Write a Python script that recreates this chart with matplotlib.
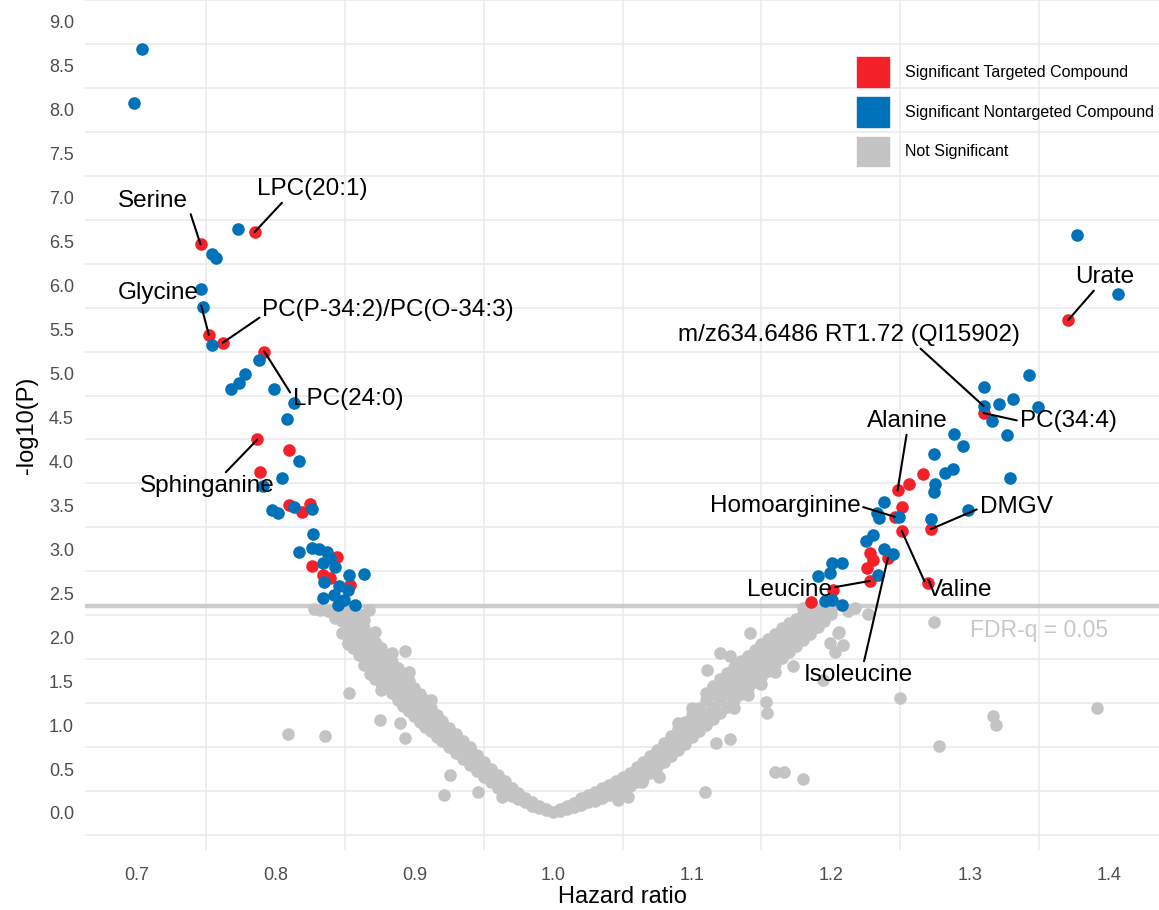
import matplotlib
matplotlib.use("Agg")
import matplotlib.pyplot as plt
from matplotlib.patches import Patch

plt.rcParams['font.family'] = ['Liberation Sans', 'DejaVu Sans']

RED = '#F52129'
BLUE = '#0072BA'
GRAY = '#C4C4C4'

# significant targeted compounds (hazard ratio, -log10 P)
tgt_hr = [0.785, 0.746, 0.752, 0.762, 0.792, 0.787, 0.810, 0.789, 0.810, 0.819,
          0.825, 0.844, 0.826, 0.834, 0.839, 0.854,
          1.371, 1.310, 1.266, 1.256, 1.248, 1.251, 1.246, 1.251, 1.272, 1.270,
          1.228, 1.230, 1.226, 1.228, 1.241, 1.2017, 1.186]
tgt_logp = [6.61, 6.47, 5.44, 5.35, 5.25, 4.25, 4.13, 3.88, 3.50, 3.42,
            3.52, 2.91, 2.81, 2.71, 2.67, 2.59,
            5.61, 4.55, 3.86, 3.74, 3.67, 3.48, 3.37, 3.21, 3.23, 2.62,
            2.96, 2.88, 2.79, 2.64, 2.90, 2.54, 2.40]

# significant nontargeted compounds
nt_hr = [0.704, 0.698, 0.773, 0.754, 0.757, 0.746, 0.748, 0.754, 0.788, 0.778,
         0.774, 0.768, 0.799, 0.813, 0.808, 0.817, 0.805, 0.791, 0.7975, 0.802,
         0.813, 0.826, 0.827, 0.817, 0.826, 0.831, 0.837, 0.839, 0.834, 0.843,
         0.835, 0.853, 0.864, 0.846, 0.852, 0.842, 0.834, 0.849, 0.857, 0.845,
         1.377, 1.407, 1.343, 1.310, 1.331, 1.321, 1.349, 1.310, 1.316, 1.327,
         1.289, 1.295, 1.274, 1.288, 1.282, 1.275, 1.274, 1.329, 1.238, 1.249,
         1.233, 1.235, 1.272, 1.299, 1.230, 1.225, 1.238, 1.245, 1.234, 1.201,
         1.208, 1.191, 1.199, 1.196, 1.208, 1.201]
nt_logp = [8.69, 8.08, 6.64, 6.36, 6.31, 5.96, 5.76, 5.32, 5.15, 5.00,
           4.89, 4.82, 4.82, 4.66, 4.48, 4.00, 3.81, 3.72, 3.45, 3.41,
           3.48, 3.46, 3.17, 2.97, 3.01, 3.00, 2.97, 2.90, 2.84, 2.80,
           2.63, 2.71, 2.72, 2.58, 2.54, 2.48, 2.45, 2.42, 2.37, 2.37,
           6.58, 5.91, 4.98, 4.85, 4.71, 4.65, 4.62, 4.63, 4.46, 4.30,
           4.31, 4.18, 4.08, 3.91, 3.87, 3.74, 3.65, 3.81, 3.54, 3.37,
           3.41, 3.36, 3.34, 3.45, 3.16, 3.09, 3.00, 2.95, 2.71, 2.84,
           2.84, 2.70, 2.73, 2.41, 2.37, 2.42]

# not significant: dense band, read column by column
ns_band_hr = [0.843, 0.848, 0.852, 0.856, 0.860, 0.864, 0.868, 0.872, 0.876, 0.880,
              0.884, 0.888, 0.892, 0.896, 0.900, 0.904, 0.908, 0.912, 0.916, 0.920,
              0.925, 0.930, 0.935, 0.940, 0.945, 0.950, 0.955, 0.960, 0.965, 0.970,
              0.975, 0.980, 0.985, 0.990, 0.995, 1.000,
              1.005, 1.010, 1.015, 1.020, 1.025, 1.030, 1.035, 1.040, 1.045, 1.050,
              1.055, 1.060, 1.065, 1.070, 1.075, 1.080, 1.085, 1.090, 1.095, 1.100,
              1.105, 1.110, 1.115, 1.120, 1.125, 1.130, 1.135, 1.140, 1.145, 1.150,
              1.155, 1.160, 1.165, 1.170, 1.175, 1.180, 1.185, 1.190, 1.195, 1.200]
ns_band_logp = [
    [2.30, 2.22], [2.32, 2.18, 2.05], [2.25, 2.10, 1.95, 2.32], [2.28, 2.15, 2.00, 1.88],
    [2.18, 2.05, 1.90, 1.80, 2.26], [2.10, 1.95, 1.82, 1.68, 2.20], [2.02, 1.88, 1.72, 1.58],
    [1.95, 1.80, 1.66, 1.52, 2.06], [1.88, 1.72, 1.60, 1.48, 1.40], [1.80, 1.66, 1.55, 1.42],
    [1.72, 1.60, 1.48, 1.36, 1.82], [1.65, 1.52, 1.40, 1.28], [1.58, 1.45, 1.34, 1.22],
    [1.50, 1.38, 1.27, 1.16, 1.60], [1.42, 1.31, 1.20, 1.10], [1.35, 1.24, 1.14, 1.04],
    [1.28, 1.17, 1.07, 0.98], [1.20, 1.10, 1.01, 0.93, 1.28], [1.12, 1.03, 0.95, 0.87],
    [1.05, 0.97, 0.89, 0.82], [0.97, 0.90, 0.82, 0.75], [0.90, 0.82, 0.75, 0.68],
    [0.82, 0.75, 0.68, 0.62], [0.74, 0.67, 0.60, 0.55], [0.66, 0.59, 0.53, 0.48],
    [0.58, 0.51, 0.46, 0.41], [0.50, 0.44, 0.39, 0.35], [0.43, 0.37, 0.33, 0.29],
    [0.36, 0.31, 0.27, 0.24], [0.29, 0.25, 0.22, 0.19], [0.23, 0.19, 0.16],
    [0.17, 0.14, 0.12], [0.12, 0.10, 0.08], [0.08, 0.06], [0.04, 0.03], [0.01],
    [0.02, 0.05], [0.04, 0.08], [0.07, 0.11], [0.09, 0.13, 0.17], [0.12, 0.16, 0.20],
    [0.14, 0.19, 0.24], [0.17, 0.22, 0.28], [0.20, 0.26, 0.32], [0.24, 0.30, 0.36],
    [0.27, 0.34, 0.41], [0.31, 0.38, 0.46], [0.35, 0.43, 0.52], [0.40, 0.49, 0.58],
    [0.46, 0.55, 0.65], [0.52, 0.62, 0.72], [0.58, 0.69, 0.80], [0.65, 0.76, 0.88],
    [0.72, 0.84, 0.96, 1.02], [0.79, 0.92, 1.04], [0.86, 0.99, 1.12, 1.20], [0.93, 1.06, 1.20],
    [1.00, 1.14, 1.28, 1.36], [1.07, 1.21, 1.35, 1.44], [1.14, 1.28, 1.42, 1.52],
    [1.21, 1.35, 1.49, 1.59], [1.28, 1.42, 1.56, 1.66, 1.20], [1.35, 1.49, 1.62, 1.73],
    [1.42, 1.56, 1.69, 1.79, 1.34], [1.49, 1.62, 1.75, 1.86], [1.55, 1.68, 1.81, 1.92, 1.47],
    [1.62, 1.75, 1.87, 1.98], [1.69, 1.81, 1.93, 2.04, 1.60], [1.76, 1.88, 1.99, 2.10],
    [1.83, 1.94, 2.05, 2.16], [1.90, 2.01, 2.11, 2.21], [1.97, 2.07, 2.17, 2.26],
    [2.04, 2.14, 2.23, 2.30], [2.12, 2.21, 2.29], [2.19, 2.27, 2.33], [2.26, 2.32]]

# not significant: scattered points off the band
ns_out_hr = [0.832, 0.836, 0.809, 0.893, 0.853, 0.875, 0.890, 0.893, 0.852, 0.848,
             0.867, 0.921, 0.946, 0.926, 0.963, 0.940, 0.828, 0.838,
             1.142, 1.111, 1.120, 1.127, 1.153, 1.154, 1.173, 1.191, 1.205, 1.199,
             1.203, 1.209, 1.117, 1.127, 1.160, 1.166, 1.180, 1.109, 1.076, 1.064,
             1.054, 1.194, 1.274, 1.250, 1.317, 1.319, 1.278, 1.392, 1.217, 1.227,
             1.206, 1.047, 1.212, 1.180]
ns_out_logp = [2.31, 0.88, 0.90, 1.84, 1.37, 1.06, 1.02, 0.85, 1.92, 2.25,
               2.31, 0.20, 0.24, 0.43, 0.18, 0.75, 2.32, 2.30,
               2.05, 1.63, 1.82, 1.79, 1.26, 1.14, 1.67, 2.12, 2.05, 1.93,
               1.83, 1.91, 0.80, 0.84, 0.47, 0.47, 0.39, 0.24, 0.41, 0.35,
               0.18, 1.51, 2.17, 1.31, 1.10, 1.00, 0.76, 1.19, 2.33, 2.26,
               2.06, 0.15, 2.30, 2.33]

# labelled compounds: name, point, label centre, where the segment leaves the label
lab_names = ['Serine', 'LPC(20:1)', 'Glycine', 'PC(P-34:2)/PC(O-34:3)', 'LPC(24:0)',
             'Sphinganine', 'm/z634.6486 RT1.72 (QI15902)', 'PC(34:4)', 'Urate',
             'Alanine', 'Homoarginine', 'DMGV', 'Valine', 'Leucine', 'Isoleucine']
lab_hr = [0.746, 0.785, 0.752, 0.762, 0.792, 0.787, 1.310, 1.310, 1.371,
          1.248, 1.246, 1.272, 1.251, 1.228, 1.241]
lab_logp = [6.47, 6.61, 5.44, 5.35, 5.25, 4.25, 4.63, 4.55, 5.61,
            3.67, 3.37, 3.23, 3.21, 2.64, 2.90]
lab_x = [0.7117, 0.8264, 0.7153, 0.8811, 0.8523, 0.7506, 1.2131, 1.3708, 1.3975,
         1.2548, 1.1670, 1.3333, 1.2930, 1.1705, 1.2195]
lab_y = [6.96, 7.10, 5.92, 5.72, 4.71, 3.72, 5.44, 4.46, 6.10,
         4.46, 3.49, 3.48, 2.54, 2.54, 1.57]
lab_rel = [(1, 0.3), (0.25, 0), (1, 0.4), (0, 0.25), (0, 0.6), (0.62, 1), (0.7, 0),
           (0, 0.5), (0.35, 0), (0.5, 0), (1, 0.5), (0, 0.45), (0, 0.6), (1, 0.6),
           (0.55, 1)]

fdr_threshold = 2.355

ns_hr = list(ns_out_hr)
ns_logp = list(ns_out_logp)
for h, ys in zip(ns_band_hr, ns_band_logp):
    for y in ys:
        ns_hr.append(h)
        ns_logp.append(y)

fig = plt.figure(figsize=(11.59, 9.10), dpi=100)
ax = fig.add_axes([85 / 1159, 60 / 910, 1074 / 1159, 850 / 910])

ax.axhline(fdr_threshold, color='#CCCCCC', lw=3.2, zorder=1)
ax.scatter(ns_hr, ns_logp, s=82, color=GRAY, linewidths=0, zorder=2)
ax.scatter(tgt_hr, tgt_logp, s=82, color=RED, linewidths=0, zorder=3)
ax.scatter(nt_hr, nt_logp, s=82, color=BLUE, linewidths=0, zorder=4)

ax.text(1.350, 2.08, 'FDR-q = 0.05', color='#C8C8C8', fontsize=16.5,
        ha='center', va='center', zorder=5)

for name, px, py, tx, ty, rel in zip(lab_names, lab_hr, lab_logp, lab_x, lab_y, lab_rel):
    ax.annotate(name, xy=(px, py), xytext=(tx, ty), fontsize=17.5, color='black',
                ha='center', va='center', zorder=6,
                arrowprops=dict(arrowstyle='-', color='black', lw=1.5,
                                relpos=rel, shrinkA=0, shrinkB=0))

ax.set_xlim(0.6628, 1.4363)
ax.set_ylim(-0.421, 9.249)

ax.set_xticks([0.7, 0.8, 0.9, 1.0, 1.1, 1.2, 1.3, 1.4])
ax.set_xticklabels(['0.7', '0.8', '0.9', '1.0', '1.1', '1.2', '1.3', '1.4'])
yt = [i * 0.5 for i in range(19)]
ax.set_yticks(yt)
ax.set_yticklabels(['%.1f' % v for v in yt])
ax.set_xticks([0.75, 0.85, 0.95, 1.05, 1.15, 1.25, 1.35], minor=True)
ax.set_yticks([-0.25 + i * 0.5 for i in range(20)], minor=True)
ax.grid(False, which='major')
ax.grid(True, which='minor', color='#EBEBEB', lw=1.2)
ax.set_axisbelow(True)
ax.tick_params(which='both', length=0)
ax.tick_params(axis='x', labelsize=13, labelcolor='#4D4D4D', pad=12)
ax.tick_params(axis='y', labelsize=13, labelcolor='#4D4D4D', pad=8)
for sp in ax.spines.values():
    sp.set_visible(False)

ax.set_xlabel('Hazard ratio', fontsize=17, labelpad=2)
ax.set_ylabel('-log10(P)', fontsize=17, labelpad=8)

handles = [Patch(color=RED, label='Significant Targeted Compound'),
           Patch(color=BLUE, label='Significant Nontargeted Compound'),
           Patch(color=GRAY, label='Not Significant')]
fig.legend(handles=handles, loc='upper left', bbox_to_anchor=(857 / 1159, 1 - 57 / 910),
           frameon=False, fontsize=11.5, handlelength=2.0, handleheight=2.5,
           labelspacing=0.62, handletextpad=1.0, borderpad=0, borderaxespad=0)

fig.savefig('out.png', dpi=100)
